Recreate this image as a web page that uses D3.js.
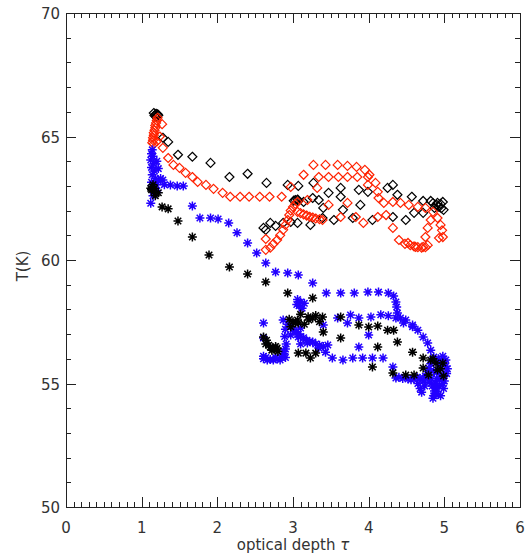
<!DOCTYPE html>
<html lang="en">
<head>
  <meta charset="UTF-8">
  <title>T vs optical depth</title>
  <style>
    body { margin: 0; background: #fff; }
    text { font-family: "DejaVu Sans", sans-serif; fill: #333; }
  </style>
</head>
<body>
  <svg id="svg" width="528" height="554"></svg>

  <script src="https://d3js.org/d3.v7.min.js"></script>
  <script>
    // [tau, T] pairs
    const blackDiamonds = [
      [1.16, 65.95], [1.19, 65.92], [1.21, 65.9], [1.17, 65.85], [1.22, 65.86], [1.19, 65.8],
      [1.28, 64.95], [1.35, 64.78], [1.48, 64.26], [1.67, 64.18], [1.91, 63.93], [2.16, 63.36],
      [2.40, 63.49], [2.65, 63.12], [2.93, 63.04], [3.07, 63.0], [3.27, 63.12], [3.47, 62.72],
      [3.63, 62.92], [3.87, 62.84], [3.99, 62.76], [4.25, 62.92], [4.32, 63.04], [4.38, 62.64],
      [4.57, 62.56], [4.72, 62.39], [4.82, 62.39], [4.91, 62.31], [4.98, 62.35], [4.99, 62.03],
      [4.93, 62.15], [4.90, 62.23], [4.95, 62.27], [4.87, 62.11], [4.85, 62.3], [4.96, 62.1],
      [3.03, 62.43], [3.07, 62.39], [3.14, 62.35], [3.26, 62.51], [3.34, 62.43], [3.40, 62.11],
      [3.39, 61.70], [3.54, 61.62], [3.63, 62.56], [3.66, 62.03], [3.79, 61.70], [3.89, 62.23],
      [4.05, 61.62], [4.32, 61.74], [4.49, 61.62], [4.60, 61.91], [4.72, 61.91],
      [2.64, 61.22], [2.61, 61.30], [2.70, 61.50], [2.77, 61.38], [2.87, 61.50], [2.97, 61.54],
      [3.06, 61.50], [3.23, 61.42], [3.01, 62.4], [3.06, 62.45]
    ]

    const redDiamonds = [
      [1.21, 65.76], [1.20, 65.65], [1.19, 65.55], [1.18, 65.45], [1.18, 65.35], [1.17, 65.25],
      [1.16, 65.15], [1.16, 65.05], [1.15, 64.95], [1.15, 64.85], [1.14, 64.75], [1.16, 64.7],
      [1.20, 64.8], [1.24, 65.0], [1.27, 65.5],
      [1.28, 64.54], [1.35, 64.13], [1.42, 63.85], [1.50, 63.73], [1.58, 63.53], [1.67, 63.36],
      [1.74, 63.16], [1.85, 63.04], [1.95, 62.88], [2.07, 62.72], [2.17, 62.56], [2.30, 62.56],
      [2.42, 62.56], [2.56, 62.56], [2.69, 62.56], [2.85, 62.56],
      [2.64, 60.41], [2.64, 60.85], [2.70, 60.5], [2.74, 60.65], [2.79, 60.81], [2.83, 61.0],
      [2.87, 61.22], [2.90, 61.42], [2.93, 61.62], [2.95, 61.82], [2.97, 62.0], [3.0, 62.15],
      [3.03, 62.27], [3.06, 62.35], [2.97, 62.96],
      [3.06, 61.95], [3.10, 61.9], [3.14, 61.85], [3.18, 61.8], [3.22, 61.75], [3.26, 61.72],
      [3.30, 61.68], [3.35, 61.65], [3.39, 61.62],
      [3.14, 63.45], [3.27, 63.85], [3.43, 63.85], [3.59, 63.85], [3.72, 63.81], [3.84, 63.77],
      [3.95, 63.65], [4.01, 63.45], [4.09, 63.12], [4.12, 62.76], [4.13, 62.51], [4.20, 62.31],
      [4.32, 62.35], [4.42, 62.31], [4.53, 62.23], [4.65, 62.15], [4.75, 62.11], [4.85, 61.95],
      [4.91, 61.70], [4.95, 61.42], [4.97, 61.2], [4.98, 60.93], [4.93, 60.89],
      [3.34, 63.36], [3.47, 63.36], [3.60, 63.36], [3.72, 63.36], [3.85, 63.36], [3.99, 63.36],
      [3.32, 62.92], [3.99, 63.04],
      [3.19, 62.43], [3.47, 62.23], [3.63, 61.74], [3.72, 62.31], [3.83, 61.74], [3.93, 61.5],
      [4.12, 61.74], [4.23, 61.82], [4.32, 61.30], [4.40, 60.81], [4.52, 60.69], [4.62, 60.53],
      [4.72, 60.53], [4.75, 60.93], [4.78, 61.30], [4.82, 61.62],
      [4.60, 60.55], [4.65, 60.52], [4.70, 60.5], [4.75, 60.52], [4.78, 60.6], [4.55, 60.6], [4.48, 60.65]
    ]

    const blueStars = [
      [1.14, 64.46], [1.13, 64.3], [1.15, 64.2], [1.12, 64.05], [1.16, 63.9], [1.13, 63.75],
      [1.17, 63.6], [1.14, 63.45], [1.18, 63.3], [1.13, 63.15], [1.19, 63.05], [1.16, 62.9],
      [1.20, 62.8], [1.15, 62.6], [1.12, 62.3], [1.22, 63.7], [1.20, 64.0], [1.22, 63.2],
      [1.28, 63.24], [1.38, 63.04], [1.47, 63.0], [1.55, 63.0], [1.25, 63.3], [1.30, 63.05],
      [1.67, 62.19], [1.77, 61.70], [1.91, 61.70], [2.01, 61.66], [2.15, 61.50], [2.26, 61.10],
      [2.40, 60.69], [2.52, 60.28], [2.64, 59.88], [2.77, 59.51], [2.93, 59.47], [3.07, 59.39],
      [3.26, 59.07], [3.44, 58.66], [3.63, 58.66], [3.81, 58.66], [3.99, 58.70], [4.13, 58.70],
      [4.26, 58.66], [4.33, 58.54], [4.36, 58.30], [4.37, 58.10], [4.38, 57.85], [4.42, 57.65],
      [4.49, 57.57], [4.58, 57.37], [4.65, 57.16], [4.72, 56.88], [4.78, 56.64], [4.82, 56.35],
      [4.86, 56.07], [4.93, 55.95],
      [4.82, 55.8], [4.86, 55.5], [4.90, 55.2], [4.93, 54.9], [4.88, 54.6], [4.85, 54.4],
      [4.95, 55.6], [5.00, 55.9], [5.03, 55.4], [4.98, 55.0], [4.90, 54.8], [5.02, 55.7],
      [4.95, 54.5], [4.80, 55.6], [4.75, 55.3], [4.92, 56.0], [4.96, 55.8], [4.88, 55.0],
      [4.65, 55.0], [4.68, 54.8], [4.70, 54.65], [4.72, 55.1], [4.74, 54.9], [4.78, 55.5],
      [4.83, 55.2], [4.84, 54.9], [4.87, 54.7], [4.90, 55.45], [4.93, 55.75], [4.97, 55.3],
      [5.00, 55.1], [5.02, 55.95], [4.98, 56.1], [4.92, 54.55], [4.86, 54.5], [5.04, 55.6],
      [4.99, 54.8], [4.80, 55.05], [4.94, 55.15],
      [4.36, 55.22], [4.45, 55.2], [4.52, 55.18], [4.60, 55.2], [4.68, 55.2], [4.75, 55.22],
      [4.40, 55.25], [4.56, 55.15], [4.64, 55.25],
      [3.72, 57.45], [3.87, 57.65], [4.03, 57.69], [4.16, 57.78], [4.26, 57.74], [4.36, 57.65],
      [4.46, 57.45], [4.58, 57.3],
      [4.32, 55.67], [4.19, 56.03], [4.05, 56.03], [3.92, 56.03], [3.79, 56.03], [3.66, 55.95],
      [3.52, 56.03], [3.43, 56.27], [3.34, 56.44], [3.19, 56.64], [3.07, 56.88], [2.97, 56.96],
      [2.61, 56.0], [2.66, 55.95], [2.70, 55.97], [2.74, 55.95], [2.79, 56.0], [2.83, 55.95],
      [2.85, 56.05], [2.88, 56.2], [2.90, 56.4], [2.61, 56.1], [2.64, 56.05], [2.77, 56.05],
      [2.90, 57.2], [2.89, 56.9], [2.91, 56.6], [2.88, 56.3], [2.90, 56.05],
      [2.87, 57.57], [2.93, 57.4], [3.0, 57.2], [3.07, 57.0], [3.14, 56.85], [3.22, 56.7],
      [3.30, 56.6], [3.40, 56.5], [3.46, 56.56], [2.61, 57.45], [2.61, 56.84],
      [3.04, 57.1], [3.18, 56.75], [3.26, 56.68], [3.35, 56.55],
      [3.06, 58.4], [3.10, 58.3], [3.08, 58.15], [3.12, 58.05], [3.05, 58.2], [3.15, 58.25],
      [3.10, 57.25], [3.10, 56.9], [3.10, 56.6],
      [3.40, 57.37], [3.59, 57.65], [3.76, 57.77], [4.0, 56.96], [3.87, 56.48]
    ]

    const blackStars = [
      [1.14, 62.96], [1.15, 63.05], [1.13, 62.85], [1.16, 62.75], [1.12, 62.9], [1.17, 62.9],
      [1.22, 62.72], [1.18, 62.6], [1.27, 62.15], [1.35, 62.07], [1.48, 61.58], [1.67, 60.93],
      [1.89, 60.20], [2.16, 59.72], [2.40, 59.43], [2.64, 59.11], [2.93, 58.66], [3.26, 58.46],
      [3.03, 57.45], [3.07, 57.45], [3.26, 57.65], [3.39, 57.69], [3.63, 57.69], [3.87, 57.37],
      [4.0, 57.29], [4.12, 57.33], [4.25, 57.16], [4.33, 57.16], [3.63, 56.84], [4.38, 56.68],
      [4.12, 56.48], [4.58, 56.27], [4.72, 56.03], [4.82, 55.95], [4.89, 55.83], [4.72, 55.63],
      [4.91, 55.55], [4.05, 55.67], [4.32, 55.43], [4.49, 55.34], [4.60, 55.34], [4.79, 55.34],
      [4.99, 55.3], [4.98, 55.83], [4.85, 56.0], [4.95, 55.6],
      [2.61, 56.88], [2.70, 56.48], [2.79, 56.44], [2.74, 56.40], [2.64, 56.6], [2.77, 56.5],
      [2.68, 56.55], [2.72, 56.35], [2.80, 56.3], [2.65, 56.75],
      [3.07, 56.23], [3.17, 56.23], [3.23, 56.03], [3.30, 56.23], [3.40, 57.08], [3.06, 57.57],
      [3.21, 57.57], [2.95, 57.6], [3.0, 57.5],
      [3.10, 57.8], [3.20, 57.7], [3.30, 57.75], [3.15, 57.4], [3.35, 57.5], [2.97, 57.3]
    ]

    const xTicks = [0, 1, 2, 3, 4, 5, 6]
    const yTicks = [50, 55, 60, 65, 70]

    const svg = d3.select('#svg')
    const m = { left: 66, right: 8, top: 13, bottom: 47 }
    const w = 528 - m.left - m.right
    const h = 554 - m.top - m.bottom

    const x = d3.scaleLinear().domain([0, 6]).range([m.left, m.left + w])
    const y = d3.scaleLinear().domain([50, 70]).range([m.top + h, m.top])

    const g = svg.append('g')

    // minor + major ticks on all four sides, pointing inward
    const xMinor = d3.range(0, 6.001, 0.1)
    const yMinor = d3.range(50, 70.001, 1)

    function ticks(axis, scale, vals) {
      axis.selectAll(null)
        .data(vals)
        .enter()
        .append('line')
        .attr('stroke', '#222')
        .attr('stroke-width', 1)
        .each(function (v) {
          const s = d3.select(this)
          const p = Math.round(scale(v)) + 0.5
          if (scale === x) s.attr('x1', p).attr('x2', p)
          else s.attr('y1', p).attr('y2', p)
        })
      return axis.selectAll('line')
    }

    const xb = g.append('g')
    ticks(xb, x, xMinor).attr('y1', m.top + h).attr('y2', (d, i) => m.top + h - (i % 10 === 0 ? 10 : 5))
    const xt = g.append('g')
    ticks(xt, x, xMinor).attr('y1', m.top).attr('y2', (d, i) => m.top + (i % 10 === 0 ? 10 : 5))
    const yl = g.append('g')
    ticks(yl, y, yMinor).attr('x1', m.left).attr('x2', (d, i) => m.left + (i % 5 === 0 ? 10 : 5))
    const yr = g.append('g')
    ticks(yr, y, yMinor).attr('x1', m.left + w).attr('x2', (d, i) => m.left + w - (i % 5 === 0 ? 10 : 5))

    g.append('rect')
      .attr('x', m.left + 0.5)
      .attr('y', m.top + 0.5)
      .attr('width', w)
      .attr('height', h)
      .attr('fill', 'none')
      .attr('stroke', '#222')
      .attr('stroke-width', 1)

    // tick labels
    g.selectAll('.xl')
      .data(xTicks)
      .enter()
      .append('text')
      .attr('x', d => x(d))
      .attr('y', 533)
      .attr('text-anchor', 'middle')
      .attr('font-size', 15)
      .text(d => d)

    g.selectAll('.yl2')
      .data(yTicks)
      .enter()
      .append('text')
      .attr('x', m.left - 6)
      .attr('y', d => y(d) + 6)
      .attr('text-anchor', 'end')
      .attr('font-size', 15)
      .text(d => d)

    const xt2 = g.append('text')
      .attr('x', x(3))
      .attr('y', 550)
      .attr('text-anchor', 'middle')
      .attr('font-size', 15)
    xt2.append('tspan').text('optical depth ')
    xt2.append('tspan').attr('font-style', 'italic').text('τ')

    g.append('text')
      .attr('transform', 'translate(28,266) rotate(-90)')
      .attr('text-anchor', 'middle')
      .attr('font-size', 15)
      .text('T(K)')

    // markers
    const r = 4.5
    const diamond = `M0,${-r}L${r},0L0,${r}L${-r},0Z`
    const d = r * 0.72
    const star = `M${-r},0H${r}M0,${-r}V${r}M${-d},${-d}L${d},${d}M${-d},${d}L${d},${-d}`

    function plot(data, path, color, sw) {
      g.append('g')
        .selectAll('path')
        .data(data)
        .enter()
        .append('path')
        .attr('transform', p => `translate(${x(p[0])},${y(p[1])})`)
        .attr('d', path)
        .attr('fill', 'none')
        .attr('stroke', color)
        .attr('stroke-width', sw)
    }

    plot(blackDiamonds, diamond, '#000', 1.2)
    plot(redDiamonds, diamond, '#ff2200', 1.2)
    plot(blueStars, star, '#2200ff', 1.5)
    plot(blackStars, star, '#000', 1.5)
  </script>
</body>
</html>
